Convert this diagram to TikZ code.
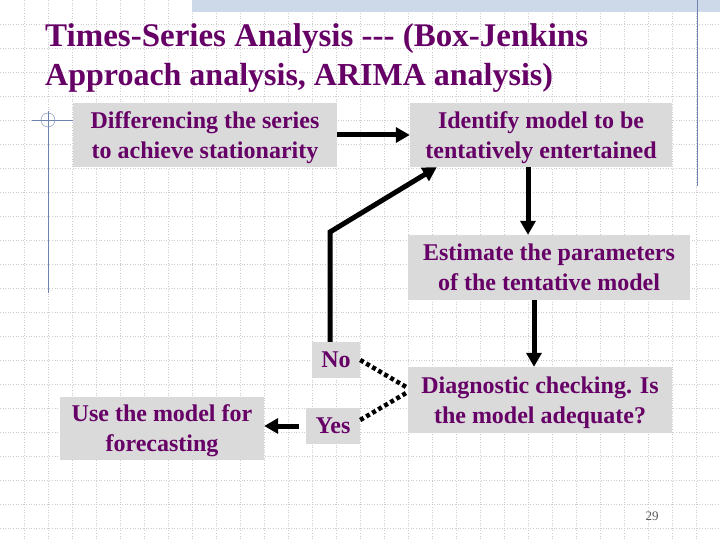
\documentclass[tikz,border=0pt]{standalone}
\usepackage{fontspec}
\setmainfont{Liberation Serif}
\usetikzlibrary{arrows.meta}
\definecolor{slidetext}{RGB}{102,0,102}
\definecolor{marble}{RGB}{218,218,218}
\definecolor{bandblue}{RGB}{205,216,232}
\definecolor{rulerblue}{RGB}{110,130,175}

\begin{document}
\begin{tikzpicture}
  [x=1pt,y=-1pt,
   every node/.style={font=\bfseries\fontsize{24}{30}\selectfont,text=slidetext,align=center,inner sep=0pt},
   box/.style={fill=marble,text depth=0pt},
   title/.style={anchor=base west},
   flow/.style={line width=5pt,-{Triangle[length=14pt,width=15pt]}},
   dots/.style={line width=4.5pt,dash pattern=on 4pt off 3pt},
   gridline/.style={gray!40,dotted,line width=0.6pt}]
  \useasboundingbox (0,0) rectangle (720,540);
  \fill[white] (0,0) rectangle (720,540);
  % slide background
  \foreach \g in {24,48,...,696}
    \draw[gridline] (\g,0) -- (\g,540);
  \foreach \g in {24,48,...,528}
    \draw[gridline] (0,\g) -- (720,\g);
  \fill[bandblue] (192,0) rectangle (720,12);
  \draw[rulerblue] (697,0) -- (697,186);
  \draw[rulerblue] (32,120) -- (73,120);
  \draw[rulerblue] (48,111) -- (48,293);
  \draw[rulerblue] (48,120) circle[radius=7pt];

  \node[title,font=\bfseries\fontsize{33}{38}\selectfont] (title1) at (45,46.7) {Times-Series Analysis -{}-{}- (Box-Jenkins};
  \node[title,font=\bfseries\fontsize{32}{38}\selectfont] (title2) at (45,85.7) {Approach analysis, ARIMA analysis)};

  \node[box,minimum width=264pt,minimum height=64pt] (diff)  at (205,135)   {Differencing the series\\to achieve stationarity};
  \node[box,minimum width=262pt,minimum height=64pt] (ident) at (541,135)   {Identify model to be\\tentatively entertained};
  \node[box,minimum width=282pt,minimum height=65pt] (estim) at (549,267.5) {Estimate the parameters\\of the tentative model};
  \node[box,minimum width=264pt,minimum height=66pt] (diag)  at (540,400)   {Diagnostic checking. Is\\the model adequate?};
  \node[box,minimum width=204pt,minimum height=63pt] (fore)  at (162,428.5) {Use the model for\\forecasting};
  \node[box,minimum width=48pt,minimum height=36pt]  (no)    at (336,360)   {No};
  \node[box,minimum width=54pt,minimum height=36pt]  (yes)   at (333,426)   {Yes};
  \node[font=\fontsize{13}{15}\selectfont,text=gray!70!black] (page) at (652,516) {29};

  \coordinate (bend) at (330,232);

  \draw[flow] (diff) -- (ident);
  \draw[flow] ([xshift=-13pt]ident.south) -- ([xshift=-21pt]estim.north);
  \draw[flow] ([xshift=-15pt]estim.south) -- ([xshift=-6pt]diag.north);
  \draw[flow,line join=miter] (no.north -| bend) -- (bend) -- ([xshift=27pt]ident.south west);
  \draw[flow] ([xshift=-7pt]yes.west) -- (yes.west -| fore.east);
  \draw[dots] (no.east) -- ([yshift=12pt]diag.west);
  \draw[dots] ([yshift=6pt]yes.east) -- ([yshift=8pt]diag.west);
\end{tikzpicture}
\end{document}
